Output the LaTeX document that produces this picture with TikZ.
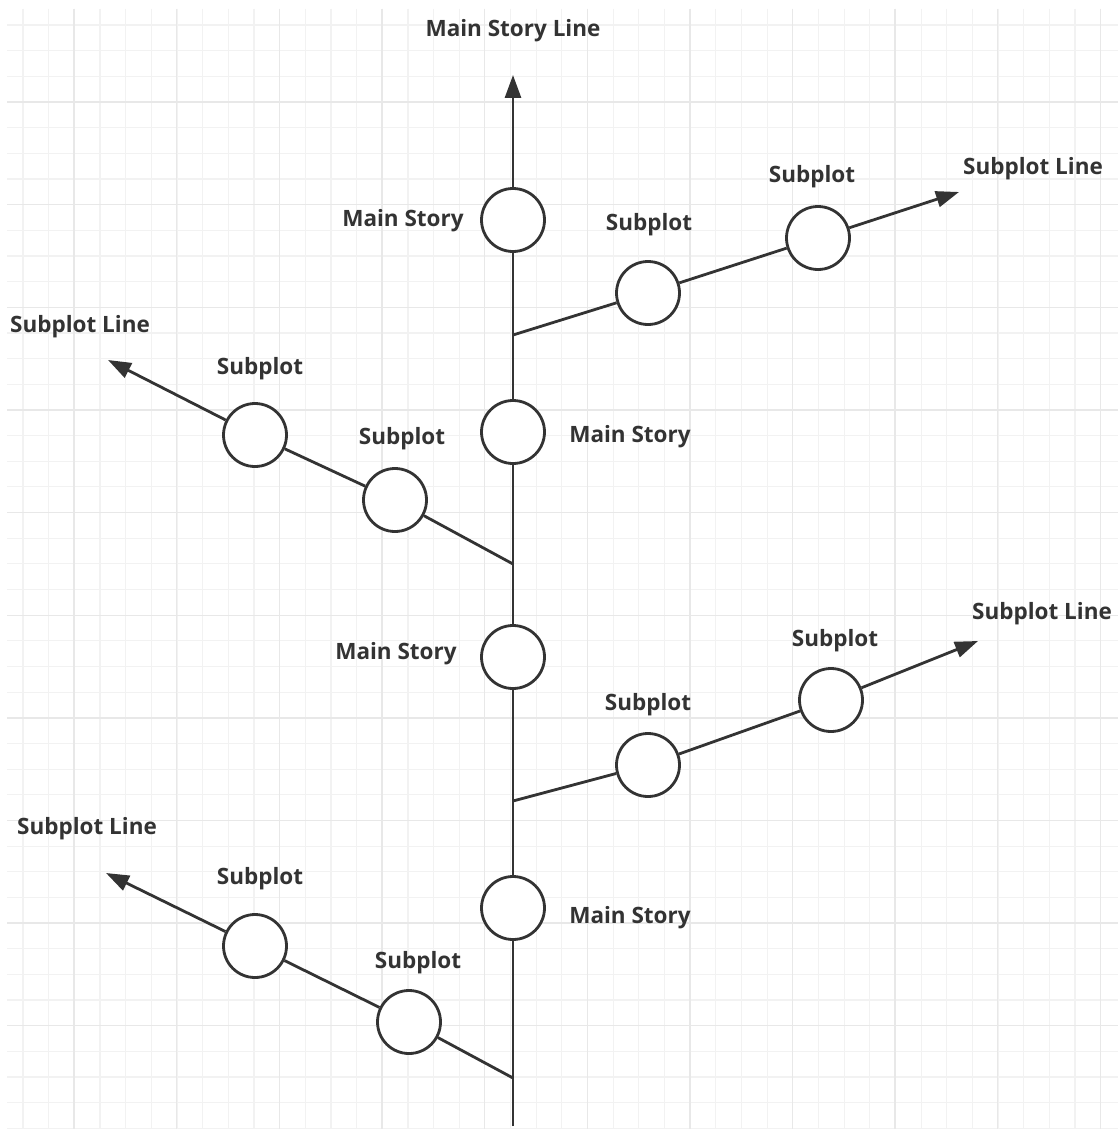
\documentclass[tikz,border=0pt]{standalone}
\usepackage{fontspec}
\setmainfont{Open Sans}
\usetikzlibrary{arrows.meta}
\definecolor{ink}{HTML}{333333}
\definecolor{gridminor}{HTML}{F2F2F2}
\definecolor{gridmajor}{HTML}{E8E8E8}
\tikzset{
  event/.style={circle, draw=ink, line width=2.8pt, fill=white,
    minimum size=63pt, inner sep=0pt},
  tag/.style={text=ink, inner sep=0pt, yshift=-2.5pt,
    font=\bfseries\fontsize{22.5}{26}\selectfont},
  storyline/.style={draw=ink, line width=2.8pt},
  storyarrow/.style={storyline, -{Triangle[length=23pt,width=16pt]}}
}
\begin{document}
\begin{tikzpicture}[x=1pt, y=-1pt]
  \useasboundingbox (0,0) rectangle (1118,1129);
  \fill[white] (0,0) rectangle (1118,1129);
  % grid paper
  \foreach \i in {0,...,42}
    \draw[gridminor, line width=1.2pt] ({23+25.66*\i},9) -- ({23+25.66*\i},1129);
  \foreach \i in {0,...,43}
    \draw[gridminor, line width=1.2pt] (7,{25+25.66*\i}) -- (1118,{25+25.66*\i});
  \foreach \i in {0,...,10}
    \draw[gridmajor, line width=1.4pt] ({74+102.64*\i},9) -- ({74+102.64*\i},1129);
  \foreach \i in {0,...,9}
    \draw[gridmajor, line width=1.4pt] (7,{102+102.64*\i}) -- (1118,{102+102.64*\i});

  % main story
  \coordinate (bottom) at (513,1126);
  \coordinate (top) at (513,75);
  \node[event] (m1) at (513,220) {};
  \node[event] (m2) at (513,432) {};
  \node[event] (m3) at (513,657) {};
  \node[event] (m4) at (513,908) {};
  \node[tag] (topline) at (513,28) {Main Story Line};
  \node[tag] (l1) at (403,218) {Main Story};
  \node[tag] (l2) at (630,434) {Main Story};
  \node[tag] (l3) at (396,651) {Main Story};
  \node[tag] (l4) at (630,915) {Main Story};

  % subplots
  \coordinate (b1) at (513,335); \coordinate (t1) at (959,192);
  \coordinate (b2) at (513,564); \coordinate (t2) at (108,360);
  \coordinate (b3) at (513,801); \coordinate (t3) at (978,641);
  \coordinate (b4) at (513,1078); \coordinate (t4) at (106,873);
  \node[event] (s1a) at (648,293) {}; \node[event] (s1b) at (818,238) {};
  \node[event] (s2a) at (395,500) {}; \node[event] (s2b) at (255,435) {};
  \node[event] (s3a) at (648,765) {}; \node[event] (s3b) at (831,700) {};
  \node[event] (s4a) at (409,1022) {}; \node[event] (s4b) at (255,946) {};
  \node[tag] (p1a) at (649,222) {Subplot}; \node[tag] (p1b) at (812,174) {Subplot};
  \node[tag] (p2a) at (402,436) {Subplot}; \node[tag] (p2b) at (260,366) {Subplot};
  \node[tag] (p3a) at (648,702) {Subplot}; \node[tag] (p3b) at (835,638) {Subplot};
  \node[tag] (p4a) at (418,960) {Subplot}; \node[tag] (p4b) at (260,876) {Subplot};
  \node[tag] (n1) at (1033,166) {Subplot Line};
  \node[tag] (n2) at (80,324) {Subplot Line};
  \node[tag] (n3) at (1042,611) {Subplot Line};
  \node[tag] (n4) at (87,826) {Subplot Line};

  \draw[storyarrow] (bottom) -- (m4) -- (m3) -- (m2) -- (m1) -- (top);
  \draw[storyarrow] (b1) -- (s1a) -- (s1b) -- (t1);
  \draw[storyarrow] (b2) -- (s2a) -- (s2b) -- (t2);
  \draw[storyarrow] (b3) -- (s3a) -- (s3b) -- (t3);
  \draw[storyarrow] (b4) -- (s4a) -- (s4b) -- (t4);
\end{tikzpicture}
\end{document}
